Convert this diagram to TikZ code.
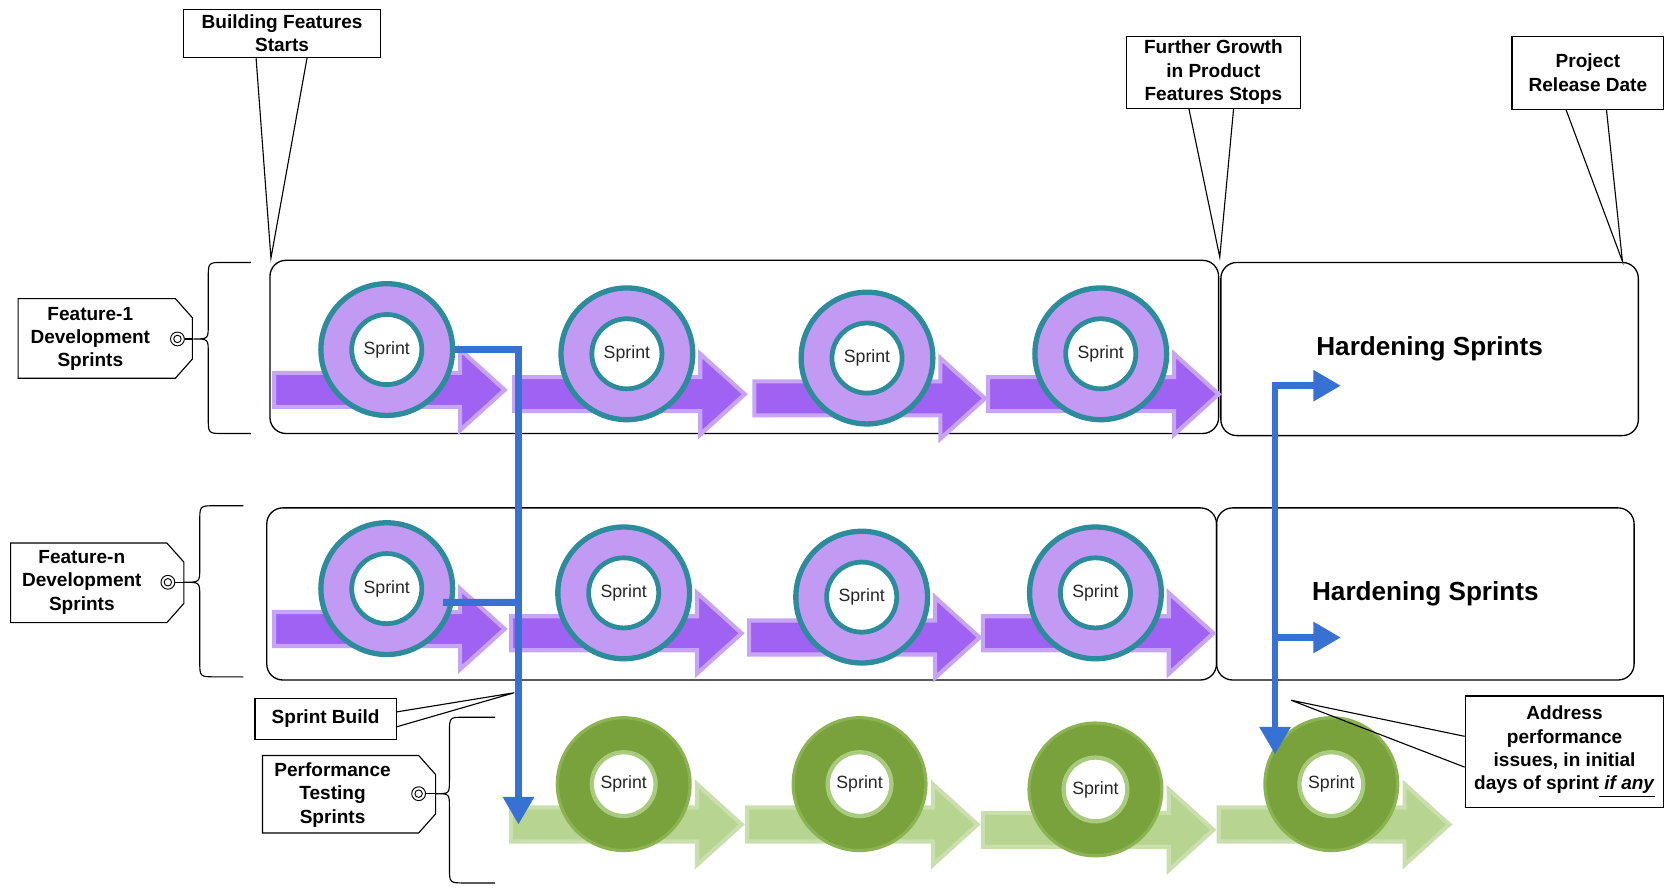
\documentclass[tikz,border=0pt]{standalone}
\usepackage{fontspec}
\setmainfont{Liberation Sans}
\usetikzlibrary{arrows.meta}

\definecolor{ringpurple}{HTML}{C39AF3}
\definecolor{arrowpurple}{HTML}{A062F2}
\definecolor{rimpurple}{HTML}{C8A4F7}
\definecolor{ringteal}{HTML}{2C8C9C}
\definecolor{flowblue}{HTML}{3671D3}
\definecolor{ringgreen}{HTML}{79A23D}
\definecolor{rimgreen}{HTML}{8CB352}
\definecolor{coregreen}{HTML}{A9CB7E}
\definecolor{arrowgreen}{HTML}{B8D491}
\definecolor{arrowrimgreen}{HTML}{CADFAE}

% one sprint: block arrow with a ring on it
\newcommand{\sprintstep}[4]{%
  \path[arrow#4] (#2,{#3-16}) -- ({#2+175},{#3-16}) -- ({#2+175},{#3-38}) -- ({#2+217},#3)
    -- ({#2+175},{#3+38}) -- ({#2+175},{#3+16}) -- (#2,{#3+16}) -- cycle;
  \node[ring#4] (#1) at ({#2+106},{#3-38}) {};
  \node[core#4] (#1c) at (#1.center) {Sprint};
}

% label tag with cut corners on the right
\newcommand{\tagoutline}[4]{%
  \draw[outline, fill=white] (#1,#2) -- ({#3-16},#2) -- (#3,{#2+18}) -- (#3,{#4-18})
    -- ({#3-16},#4) -- (#1,#4) -- cycle;
}

% curly bracket: name, end x, spine x, tip x, top y, tip y, bottom y
\newcommand{\sidebrace}[7]{%
  \draw[outline] (#2,#5) -- ({#3+14},#5) .. controls (#3,#5) .. (#3,{#5+15})
    -- (#3,{#6-13}) .. controls (#3,#6) .. (#4,#6) .. controls (#3,#6) .. (#3,{#6+13})
    -- (#3,{#7-15}) .. controls (#3,#7) .. ({#3+14},#7) -- (#2,#7);
  \coordinate (#1) at (#4,#6);
}

\begin{document}
\begin{tikzpicture}[
    x=0.02cm, y=-0.02cm,
    outline/.style={draw, line width=0.6pt},
    lane/.style={draw, line width=0.7pt, rounded corners=0.3cm, inner sep=0pt},
    hardening/.style={lane, font=\bfseries\fontsize{14}{16}\selectfont},
    callout/.style={draw, line width=0.6pt, fill=white, align=center, inner sep=0pt,
        font=\bfseries\fontsize{10.2}{12.5}\selectfont},
    taglabel/.style={align=center, inner sep=0pt, font=\bfseries\fontsize{10.2}{12.5}\selectfont},
    hole/.style={circle, draw, line width=0.5pt, inner sep=0pt, minimum size=0.26cm,
        path picture={\draw[line width=0.5pt] (path picture bounding box.center) circle (0.07cm);}},
    arrowP/.style={fill=arrowpurple, draw=rimpurple, line width=2.2pt},
    ringP/.style={circle, inner sep=0pt, minimum size=2.48cm, fill=ringpurple, draw=ringteal, line width=0.1cm},
    coreP/.style={circle, inner sep=0pt, minimum size=1.32cm, fill=white, draw=ringteal, line width=0.09cm,
        text=black!85, font=\fontsize{9.5}{11}\selectfont},
    arrowG/.style={fill=arrowgreen, draw=arrowrimgreen, line width=2.2pt},
    ringG/.style={circle, inner sep=0pt, minimum size=2.5cm, fill=ringgreen, draw=rimgreen, line width=0.06cm},
    coreG/.style={circle, inner sep=0pt, minimum size=1.2cm, fill=white, draw=coregreen, line width=0.08cm,
        text=black!85, font=\fontsize{9.5}{11}\selectfont},
    blueline/.style={draw=flowblue, line width=0.13cm},
    blueflow/.style={blueline, -{Triangle[width=0.56cm,length=0.52cm]}},
    blueboth/.style={blueline, {Triangle[width=0.56cm,length=0.52cm]}-{Triangle[width=0.56cm,length=0.52cm]}}
  ]
  \useasboundingbox (0,0) rectangle (1568,835);

  % swim lanes
  \node[lane, minimum width=17.86cm, minimum height=3.26cm] (lane1) at (700.5,326.5) {};
  \node[hardening, minimum width=7.86cm, minimum height=3.26cm] (hard1) at (1345.5,328.5) {Hardening Sprints};
  \node[lane, minimum width=17.88cm, minimum height=3.24cm] (lane2) at (698,559) {};
  \node[hardening, minimum width=7.86cm, minimum height=3.24cm] (hard2) at (1341.5,559) {Hardening Sprints};

  % feature-1 sprints
  \sprintstep{r11}{258}{367}{P}
  \sprintstep{r12}{484}{371}{P}
  \sprintstep{r13}{710}{375}{P}
  \sprintstep{r14}{930}{371}{P}

  % feature-n sprints
  \sprintstep{r21}{258}{592}{P}
  \sprintstep{r22}{481}{596}{P}
  \sprintstep{r23}{705}{600}{P}
  \sprintstep{r24}{925}{596}{P}

  % performance testing sprints
  \sprintstep{r31}{481}{776}{G}
  \sprintstep{r32}{703}{776}{G}
  \sprintstep{r33}{925}{781}{G}
  \sprintstep{r34}{1147}{776}{G}

  % tags and brackets
  \tagoutline{17}{281}{181}{356}
  \node[taglabel] (tag1) at (85,319) {Feature-1\\Development\\Sprints};
  \node[hole] (hole1) at (167,319) {};
  \sidebrace{brace1}{236}{196}{182}{247}{319}{408}
  \draw[outline] (hole1.east) -- (brace1);

  \tagoutline{10}{511}{173}{586}
  \node[taglabel] (tag2) at (77,548) {Feature-n\\Development\\Sprints};
  \node[hole] (hole2) at (158,548) {};
  \sidebrace{brace2}{229}{188}{173}{476}{548}{637}
  \draw[outline] (hole2.east) -- (brace2);

  \tagoutline{247}{711}{410}{784}
  \node[taglabel] (tag3) at (313,748) {Performance\\Testing\\Sprints};
  \node[hole] (hole3) at (394,747) {};
  \sidebrace{brace3}{466}{423}{410}{675}{747}{831}
  \draw[outline] (hole3.east) -- (brace3);

  % sprint build flow
  \coordinate (buildDrop) at (488,776);
  \coordinate (buildJoin) at (491,567);
  \draw[blueflow] (r11.east) -| (buildDrop);
  \draw[blueline] ([xshift=1.06cm,yshift=-0.26cm]r21.center) -- (buildJoin);

  % performance fixes flow
  \coordinate (hardTop) at (1262,363);
  \coordinate (hardMid) at (1262,600);
  \coordinate (hardFork) at (1200,600);
  \coordinate (perfDrop) at (1200,710);
  \draw[blueboth] (hardTop) -| (perfDrop);
  \draw[blueflow] (hardFork) -- (hardMid);

  % callouts
  \node[callout, minimum width=3.7cm, minimum height=0.9cm] (bfs) at (265.5,31.5) {Building Features\\Starts};
  \node[callout, minimum width=3.28cm, minimum height=1.36cm] (fgs) at (1142,68) {Further Growth\\in Product\\Features Stops};
  \node[callout, minimum width=2.86cm, minimum height=1.38cm] (prd) at (1494.5,68.5) {Project\\Release Date};
  \node[callout, minimum width=2.66cm, minimum height=0.78cm] (sbd) at (306.5,676.5) {Sprint Build};
  \node[callout, minimum width=3.74cm, minimum height=2.1cm] (api) at (1472.5,707.5)
    {Address\\performance\\issues, in initial\\days of sprint\underline{\ \textit{if any}}};

  \coordinate (bfsTip) at (255,243);
  \coordinate (fgsTip) at (1148,242);
  \coordinate (prdTip) at (1527,246);
  \coordinate (sbdTip) at (484,652);
  \coordinate (apiTip) at (1215,659);

  \draw[outline] ([xshift=-0.49cm]bfs.south) -- (bfsTip) -- ([xshift=0.47cm]bfs.south);
  \draw[outline] ([xshift=-0.46cm]fgs.south) -- (fgsTip) -- ([xshift=0.38cm]fgs.south);
  \draw[outline] ([xshift=-0.41cm]prd.south) -- (prdTip) -- ([xshift=0.35cm]prd.south);
  \draw[outline] ([yshift=0.13cm]sbd.east) -- (sbdTip) -- ([yshift=-0.15cm]sbd.east);
  \draw[outline] ([yshift=0.29cm]api.west) -- (apiTip) -- ([yshift=-0.29cm]api.west);
\end{tikzpicture}
\end{document}
